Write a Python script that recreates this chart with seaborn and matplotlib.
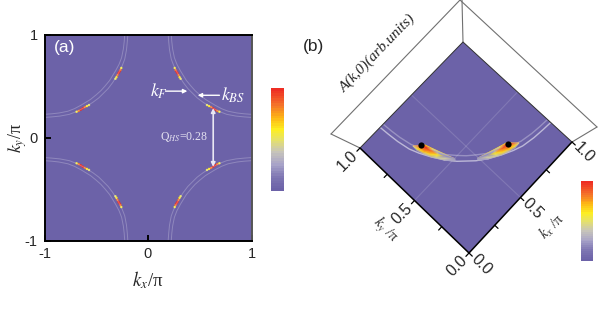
import numpy as np
import matplotlib
matplotlib.use("Agg")
import matplotlib.pyplot as plt
from matplotlib.colors import LinearSegmentedColormap
import seaborn as sns

W, H = 599, 315

# curves, upper right quadrant (k/pi)
arc1_kx = [0.195, 0.20, 0.208, 0.225, 0.25, 0.285, 0.34, 0.385, 0.43, 0.475, 0.535, 0.625, 0.695, 0.76, 0.85, 0.93, 1.0]
arc1_ky = [1.0, 0.93, 0.85, 0.76, 0.695, 0.625, 0.535, 0.475, 0.43, 0.385, 0.34, 0.285, 0.25, 0.225, 0.208, 0.20, 0.195]
arc2_kx = [0.225, 0.23, 0.238, 0.255, 0.28, 0.315, 0.37, 0.415, 0.455, 0.50, 0.555, 0.645, 0.71, 0.775, 0.86, 0.93, 1.0]
arc2_ky = [1.0, 0.93, 0.86, 0.775, 0.71, 0.645, 0.555, 0.50, 0.455, 0.415, 0.37, 0.315, 0.28, 0.255, 0.238, 0.23, 0.225]

# hot spots on the arcs in (a)
hot_kx = [0.258, 0.266, 0.275, 0.285, 0.295, 0.305, 0.315,
          0.57, 0.59, 0.61, 0.63, 0.65, 0.67, 0.69]
hot_ky = [0.675, 0.655, 0.64, 0.625, 0.605, 0.585, 0.57,
          0.315, 0.305, 0.295, 0.283, 0.27, 0.258, 0.25]
hot_level = [0.55, 0.85, 1.0, 1.0, 0.85, 0.62, 0.5,
             0.5, 0.62, 0.85, 1.0, 1.0, 0.85, 0.55]

# bright wedge in (b), the left one, colour nodes
wedge_kx = [0.257, 0.289, 0.310, 0.316, 0.324, 0.344, 0.378, 0.266, 0.279, 0.295, 0.312, 0.335,
            0.269, 0.290, 0.254, 0.317, 0.332, 0.341, 0.354, 0.388]
wedge_ky = [0.757, 0.723, 0.687, 0.647, 0.600, 0.546, 0.486, 0.719, 0.676, 0.636, 0.589, 0.537,
            0.667, 0.613, 0.717, 0.703, 0.653, 0.606, 0.555, 0.495]
wedge_level = [0.4, 0.92, 1.0, 0.88, 0.62, 0.42, 0.3, 0.62, 0.68, 0.64, 0.45, 0.25,
               0.32, 0.28, 0.2, 0.72, 0.5, 0.3, 0.18, 0.2]
dots_kx = [0.30, 0.70]
dots_ky = [0.72, 0.305]

ticks_a = [-1, 0, 1]
ticks_b = [0.0, 0.25, 0.5, 0.75, 1.0]
cbar_levels = [1.0, 0.975, 0.95, 0.925, 0.9, 0.875, 0.85, 0.825, 0.8, 0.775, 0.75, 0.725, 0.7, 0.675,
               0.65, 0.625, 0.6, 0.575, 0.55, 0.525, 0.5, 0.475, 0.45, 0.425, 0.4, 0.375, 0.35, 0.325,
               0.3, 0.275, 0.25, 0.225, 0.2, 0.175, 0.15, 0.125, 0.1, 0.075, 0.05, 0.025, 0.0]

BG = "#6c62a8"
cmap = LinearSegmentedColormap.from_list("spec", [
    (0.0, BG), (0.12, "#7d75b2"), (0.25, "#a8a3c8"), (0.38, "#c8c5ba"),
    (0.5, "#e6e268"), (0.6, "#fdee21"), (0.72, "#fdb515"), (0.85, "#f4712a"), (1.0, "#ee2e24")])

sns.set_style("white")
plt.rcParams["font.family"] = ["Liberation Sans", "DejaVu Sans"]
plt.rcParams["mathtext.fontset"] = "stix"


def box(fig, l, t, r, b):
    return fig.add_axes([l / W, 1 - b / H, (r - l) / W, (b - t) / H])


def project(kx, ky):
    # oblique view of the floor in (b), pixels of the figure
    kx, ky = np.asarray(kx, float), np.asarray(ky, float)
    return 469 + 103 * kx - 109 * ky, 253 - 111 * kx - 105 * ky + 5 * kx * ky


fig = plt.figure(figsize=(W / 100, H / 100), dpi=100, facecolor="white")

# panel a
ax = box(fig, 44.5, 34.5, 251.5, 240.5)
ax.set_facecolor(BG)
for sx, sy in [(1, 1), (-1, 1), (1, -1), (-1, -1)]:
    for xs, ys in [(arc1_kx, arc1_ky), (arc2_kx, arc2_ky)]:
        sns.lineplot(x=sx * np.array(xs), y=sy * np.array(ys), sort=False, estimator=None,
                     color="white", alpha=0.24, lw=0.7, ax=ax)
    sns.scatterplot(x=sx * np.array(hot_kx), y=sy * np.array(hot_ky), hue=hot_level, palette=cmap,
                    hue_norm=(0, 1), s=3, linewidth=0, legend=False, ax=ax)
ax.set_xlim(-1, 1)
ax.set_ylim(-1, 1)
ax.set_xticks(ticks_a)
ax.set_yticks(ticks_a)
ax.set_xticklabels(["-1", "0", "1"], fontsize=10.5)
ax.set_yticklabels(["-1", "0", "1"], fontsize=10.5)
ax.tick_params(direction="in", length=4, width=1.4, color="black", pad=5, left=True, bottom=True)
for s in ax.spines.values():
    s.set_linewidth(1.4)
    s.set_color("black")
ax.spines["right"].set_color("#555555")
ax.set_xlabel(r"$k_x$/π", fontsize=13.5, family="Liberation Serif", labelpad=6)
ax.set_ylabel(r"$k_y$/π", fontsize=13, family="Liberation Serif", labelpad=-3)
ax.text(-0.81, 0.87, "(a)", color="white", fontsize=12.5, ha="center", va="center")
ax.text(0.11, 0.45, r"$k_F$", color="white", fontsize=13, ha="center", va="center")
ax.text(0.82, 0.41, r"$k_{BS}$", color="white", fontsize=13, ha="center", va="center")
ax.text(0.35, 0.0, r"Q$_{HS}$=0.28", color="#e4e1f0", fontsize=8.5, family="Liberation Serif",
        ha="center", va="center")
white_arrow = dict(arrowstyle="-|>", color="white", lw=1.0, mutation_scale=6, shrinkA=0, shrinkB=0)
ax.annotate("", xy=(0.38, 0.45), xytext=(0.17, 0.45), arrowprops=white_arrow)
ax.annotate("", xy=(0.48, 0.41), xytext=(0.69, 0.41), arrowprops=white_arrow)
ax.annotate("", xy=(0.63, 0.285), xytext=(0.63, -0.285),
            arrowprops=dict(arrowstyle="<|-|>", color="#e9e7f3", lw=1.2, mutation_scale=6, shrinkA=0, shrinkB=0))

# colour bars
for l, t, r, b in [(271, 88, 284, 191), (581, 181, 593, 261)]:
    cax = box(fig, l, t, r, b)
    sns.heatmap(np.array(cbar_levels).reshape(-1, 1), cmap=cmap, vmin=0, vmax=1, cbar=False,
                xticklabels=False, yticklabels=False, linewidths=0, rasterized=True, ax=cax)

# panel b, drawn in figure pixels through project()
bx = box(fig, 0, 0, W, H)
bx.patch.set_alpha(0)
bx.set_xlim(0, W)
bx.set_ylim(H, 0)
bx.axis("off")

floor_kx = [0, 1, 1, 0]
floor_ky = [0, 0, 1, 1]
px, py = project(floor_kx, floor_ky)
bx.fill(px, py, color=BG, lw=0, zorder=1)

# back walls of the box
wall = "#707070"
apex = (460, 0)
left_top = (331, 134)
right_top = (597, 127)
for a, c in [(left_top, apex), (right_top, apex), (left_top, (px[3], py[3])), (right_top, (px[1], py[1])),
             ((px[2], py[2]), (462, 0))]:
    bx.plot([a[0], c[0]], [a[1], c[1]], color=wall, lw=0.8, zorder=1)

# faint grid lines on the floor
for xs, ys in [([0.5, 0.5], [0.0, 1.15]), ([0.0, 1.15], [0.5, 0.5])]:
    gx, gy = project(xs, ys)
    bx.plot(gx, gy, color="white", alpha=0.14, lw=0.8, zorder=2)

for xs, ys, a in [(arc1_kx, arc1_ky, 0.55), (arc2_kx, arc2_ky, 0.3)]:
    cx, cy = project(xs, ys)
    sns.lineplot(x=cx, y=cy, sort=False, estimator=None, color="white", alpha=a, lw=1.0, ax=bx, zorder=3)

for xs, ys in [(wedge_kx, wedge_ky), (wedge_ky, wedge_kx)]:
    wx, wy = project(xs, ys)
    bx.tripcolor(wx, wy, wedge_level, shading="gouraud", cmap=cmap, vmin=0, vmax=1, zorder=4)
dx, dy = project(dots_kx, dots_ky)
sns.scatterplot(x=dx, y=dy, color="black", s=20, linewidth=0, legend=False, ax=bx, zorder=5)

# edges and ticks of the floor
ex, ey = project([0, 1], [0, 0])
bx.plot(ex, ey, color="black", lw=1.1, zorder=5)
ex, ey = project([0, 0], [0, 1])
bx.plot(ex, ey, color="black", lw=1.1, zorder=5)
ex, ey = project([1, 1, 0], [0, 1, 1])
bx.plot(ex, ey, color="#303030", lw=0.7, zorder=5)
for t in ticks_b:
    ex, ey = project([t, t], [0, -0.03])
    bx.plot(ex, ey, color="black", lw=0.9, zorder=5)
    ex, ey = project([0, -0.03], [t, t])
    bx.plot(ex, ey, color="black", lw=0.9, zorder=5)
    if t in (0.0, 0.5, 1.0):
        lx, ly = project([t], [-0.11])
        bx.text(lx[0], ly[0], f"{t:.1f}", rotation=-45, fontsize=11.5, ha="center", va="center",
                rotation_mode="anchor", zorder=6)
        lx, ly = project([-0.12], [t])
        bx.text(lx[0], ly[0], f"{t:.1f}", rotation=45, fontsize=11.5, ha="center", va="center",
                rotation_mode="anchor", zorder=6)

bx.text(552, 227, r"$k_x$ /π", rotation=45, fontsize=10.5, family="Liberation Serif", ha="center", va="center",
        rotation_mode="anchor")
bx.text(385, 230, r"$k_y$ /π", rotation=-45, fontsize=10.5, family="Liberation Serif", ha="center", va="center",
        rotation_mode="anchor")
bx.text(378, 53, "A(k,0)(arb.units)", rotation=46, fontsize=11, style="italic", family="Liberation Serif",
        ha="center", va="center", rotation_mode="anchor")
bx.text(314, 46, "(b)", fontsize=12.5, ha="center", va="center")

fig.savefig("out.png", dpi=100)
